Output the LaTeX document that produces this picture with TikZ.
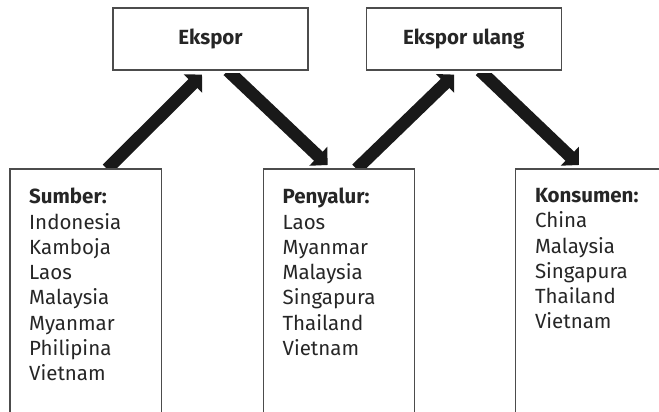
\documentclass[tikz,border=0pt]{standalone}
\usepackage{fontspec}
\setmainfont{Fira Sans}
\usetikzlibrary{positioning,arrows.meta}
\tikzset{
  label box/.style={draw=black!70, line width=1.2pt, minimum width=195pt, minimum height=62pt,
    font=\fontsize{20.5pt}{25.3pt}\selectfont\bfseries, text=black!85},
  panel/.style={minimum width=151pt, minimum height=260pt, anchor=north west, inner sep=0pt},
  panel line/.style={draw=black!70, line width=1.2pt},
  list/.style={anchor=north west, align=left, inner sep=0pt, text=black!85,
    font=\fontsize{20.5pt}{25.3pt}\selectfont},
  flow/.style={line width=12.5pt, draw=black!90, -{Triangle[angle=90:18pt]}}
}
\begin{document}
\begin{tikzpicture}[x=1pt,y=-1pt]
\clip (0,0) rectangle (659,412);
\node[label box] (ekspor) at (210.5,39) {Ekspor};
\node[label box, right=57pt of ekspor] (ulang) {Ekspor ulang};
\node[panel] (sumberbox) at (10,169) {};
\node[panel, right=102pt of sumberbox] (penyalurbox) {};
\node[panel, right=101pt of penyalurbox] (konsumenbox) {};

\node[list] (sumber) at ([shift={(19,19)}]sumberbox.north west)
  {\textbf{Sumber:}\\Indonesia\\Kamboja\\Laos\\Malaysia\\Myanmar\\Philipina\\Vietnam};
\node[list] (penyalur) at ([shift={(19,19)}]penyalurbox.north west)
  {\textbf{Penyalur:}\\Laos\\Myanmar\\Malaysia\\Singapura\\Thailand\\Vietnam};
\node[list] (konsumen) at ([shift={(19,19)}]konsumenbox.north west)
  {\textbf{Konsumen:}\\China\\Malaysia\\Singapura\\Thailand\\Vietnam};

\foreach \b in {sumberbox,penyalurbox,konsumenbox}
  \draw[panel line] (\b.south west) |- (\b.north east) -- (\b.south east);

\begin{scope}
\clip (0,73.5) rectangle (659,167.5);
\draw[flow] ([xshift=21.5pt]sumberbox.north) -- ([shift={(-8.5,4)}]ekspor.south);
\draw[flow] ([xshift=17.4pt]ekspor.south) -- ([shift={(-11.5,-4)}]penyalurbox.north);
\draw[flow] ([xshift=17.5pt]penyalurbox.north) -- ([shift={(-9.5,4)}]ulang.south);
\draw[flow] ([xshift=16.4pt]ulang.south) -- ([shift={(-12.5,-4)}]konsumenbox.north);
\end{scope}
\end{tikzpicture}
\end{document}
